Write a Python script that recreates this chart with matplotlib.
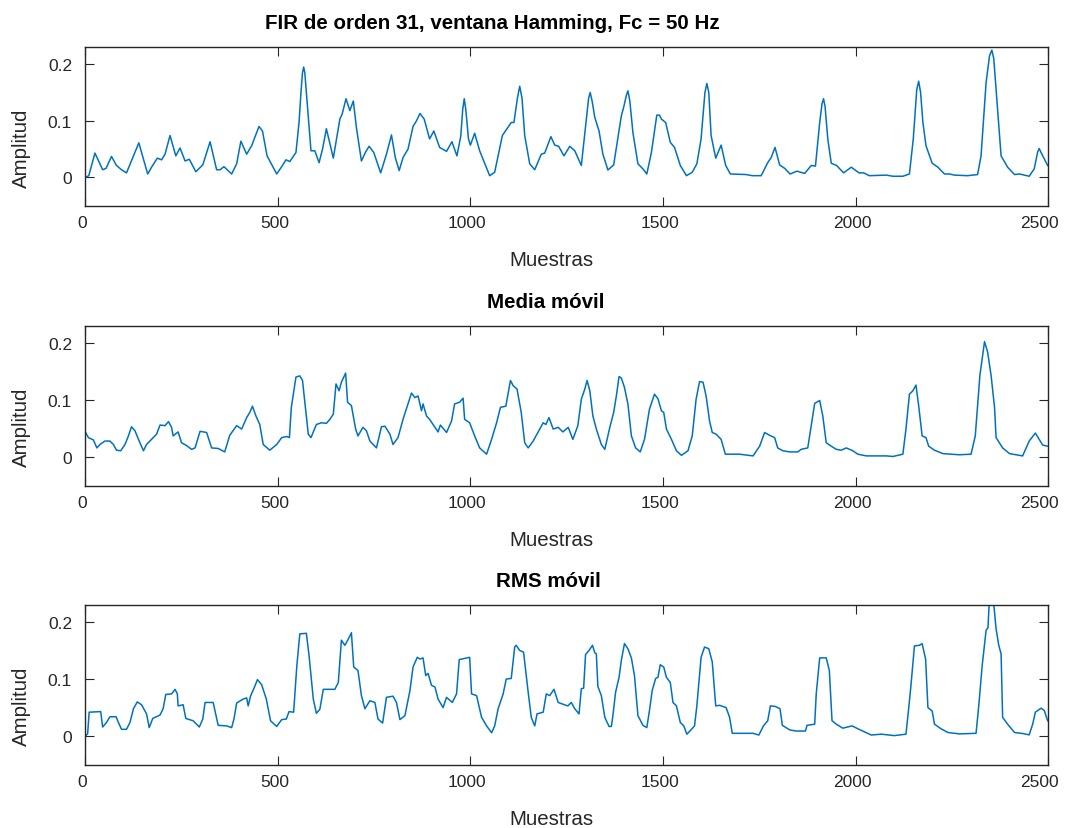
import numpy as np
import matplotlib
matplotlib.use("Agg")
import matplotlib.pyplot as plt
import matplotlib.transforms as mtransforms

plt.rcParams['font.family'] = ['Liberation Sans', 'DejaVu Sans']

# FIR de orden 31 (muestra, amplitud)
fir_x = [0, 9, 25, 45, 54, 68, 81, 94, 107, 139, 162, 172, 187, 198, 207, 220, 235, 246, 259, 270,
         287, 305, 324, 341, 350, 360, 380, 393, 404, 419, 432, 451, 460, 472, 497, 510, 521, 531, 547, 555,
         560, 564, 567, 570, 574, 580, 586, 596, 607, 616, 626, 644, 654, 661, 667, 677, 687, 696, 704, 717,
         728, 737, 749, 767, 782, 795, 805, 815, 825, 838, 851, 860, 869, 880, 894, 905, 920, 938, 952, 965,
         975, 980, 984, 988, 995, 1000, 1011, 1024, 1050, 1063, 1083, 1097, 1106, 1113, 1122, 1128, 1134, 1141, 1154, 1167,
         1184, 1193, 1209, 1219, 1229, 1243, 1258, 1271, 1288, 1301, 1307, 1311, 1316, 1323, 1334, 1344, 1357, 1372, 1392, 1398,
         1405, 1409, 1414, 1422, 1435, 1448, 1458, 1470, 1484, 1491, 1496, 1507, 1519, 1530, 1545, 1561, 1576, 1588, 1599, 1609,
         1614, 1619, 1625, 1637, 1651, 1663, 1675, 1716, 1732, 1755, 1772, 1781, 1791, 1803, 1816, 1830, 1848, 1868, 1885, 1896,
         1907, 1913, 1917, 1921, 1928, 1937, 1951, 1969, 1989, 2009, 2021, 2036, 2080, 2097, 2123, 2140, 2150, 2159, 2164, 2169,
         2175, 2183, 2199, 2214, 2231, 2244, 2257, 2291, 2317, 2326, 2339, 2348, 2354, 2359, 2365, 2378, 2395, 2413, 2426, 2451,
         2464, 2473, 2477, 2481, 2499]
fir_y = [0.0, 0.003, 0.043, 0.0135, 0.016, 0.037, 0.021, 0.0135, 0.008, 0.061, 0.006, 0.018, 0.034, 0.031, 0.041, 0.074, 0.038, 0.052, 0.029, 0.032,
         0.010, 0.022, 0.063, 0.0135, 0.0135, 0.019, 0.006, 0.024, 0.064, 0.041, 0.056, 0.090, 0.082, 0.038, 0.006, 0.019, 0.031, 0.028, 0.044, 0.097,
         0.150, 0.185, 0.195, 0.185, 0.150, 0.097, 0.047, 0.047, 0.026, 0.050, 0.086, 0.034, 0.074, 0.103, 0.112, 0.139, 0.118, 0.135, 0.088, 0.029,
         0.045, 0.055, 0.044, 0.008, 0.041, 0.075, 0.035, 0.012, 0.035, 0.050, 0.090, 0.100, 0.113, 0.103, 0.068, 0.082, 0.053, 0.046, 0.063, 0.038,
         0.073, 0.120, 0.139, 0.120, 0.068, 0.057, 0.078, 0.047, 0.003, 0.009, 0.074, 0.088, 0.097, 0.097, 0.140, 0.161, 0.140, 0.074, 0.024, 0.0135,
         0.041, 0.043, 0.072, 0.057, 0.055, 0.038, 0.055, 0.047, 0.021, 0.103, 0.140, 0.150, 0.135, 0.106, 0.082, 0.041, 0.013, 0.022, 0.109, 0.124,
         0.145, 0.153, 0.135, 0.079, 0.024, 0.015, 0.006, 0.044, 0.110, 0.110, 0.103, 0.097, 0.062, 0.053, 0.021, 0.003, 0.009, 0.024, 0.068, 0.150,
         0.166, 0.150, 0.074, 0.034, 0.057, 0.021, 0.006, 0.005, 0.003, 0.003, 0.026, 0.035, 0.053, 0.022, 0.016, 0.006, 0.011, 0.007, 0.021, 0.020,
         0.097, 0.130, 0.139, 0.125, 0.068, 0.025, 0.021, 0.008, 0.018, 0.008, 0.008, 0.003, 0.004, 0.002, 0.002, 0.006, 0.068, 0.155, 0.170, 0.150,
         0.097, 0.056, 0.025, 0.018, 0.006, 0.006, 0.004, 0.003, 0.005, 0.038, 0.167, 0.215, 0.225, 0.210, 0.156, 0.038, 0.018, 0.005, 0.006, 0.002,
         0.015, 0.045, 0.051, 0.045, 0.021]

# Media movil
mm_x = [0, 8, 21, 30, 38, 51, 64, 73, 81, 92, 103, 112, 120, 129, 138, 151, 159, 172, 185, 194,
        207, 216, 224, 228, 241, 250, 263, 276, 285, 298, 315, 328, 345, 362, 375, 393, 406, 419, 427, 434,
        443, 453, 462, 479, 497, 510, 523, 530, 535, 547, 557, 564, 570, 579, 586, 600, 613, 626, 635, 644,
        651, 659, 665, 676, 681, 691, 702, 708, 721, 730, 739, 756, 769, 778, 791, 799, 812, 825, 838, 847,
        856, 864, 873, 877, 886, 894, 903, 916, 922, 938, 951, 959, 972, 981, 985, 998, 1011, 1024, 1042, 1055,
        1068, 1078, 1092, 1104, 1111, 1121, 1132, 1141, 1150, 1163, 1180, 1189, 1196, 1204, 1215, 1228, 1240, 1254, 1266, 1279,
        1288, 1297, 1303, 1310, 1318, 1327, 1340, 1349, 1362, 1372, 1379, 1386, 1392, 1400, 1409, 1418, 1429, 1441, 1452, 1465,
        1478, 1487, 1496, 1502, 1509, 1522, 1535, 1548, 1565, 1576, 1586, 1595, 1604, 1612, 1621, 1628, 1638, 1651, 1662, 1699,
        1734, 1751, 1764, 1777, 1790, 1798, 1811, 1829, 1850, 1859, 1876, 1885, 1894, 1907, 1915, 1924, 1937, 1950, 1963, 1976,
        1993, 2006, 2028, 2080, 2097, 2123, 2131, 2140, 2149, 2157, 2164, 2173, 2183, 2190, 2205, 2227, 2270, 2300, 2311, 2323,
        2335, 2343, 2352, 2361, 2365, 2382, 2400, 2434, 2451, 2467, 2486, 2499]
mm_y = [0.044, 0.034, 0.030, 0.016, 0.022, 0.028, 0.028, 0.022, 0.012, 0.011, 0.022, 0.037, 0.053, 0.046, 0.031, 0.011, 0.022, 0.031, 0.040, 0.056,
        0.055, 0.062, 0.052, 0.037, 0.044, 0.025, 0.020, 0.0135, 0.016, 0.045, 0.043, 0.016, 0.015, 0.009, 0.038, 0.055, 0.049, 0.069, 0.078, 0.089,
        0.072, 0.057, 0.022, 0.012, 0.022, 0.034, 0.036, 0.034, 0.087, 0.140, 0.142, 0.134, 0.096, 0.040, 0.034, 0.057, 0.060, 0.059, 0.066, 0.075,
        0.128, 0.116, 0.131, 0.147, 0.096, 0.090, 0.049, 0.037, 0.052, 0.046, 0.028, 0.016, 0.053, 0.054, 0.040, 0.022, 0.034, 0.066, 0.093, 0.112,
        0.104, 0.107, 0.081, 0.093, 0.072, 0.066, 0.057, 0.044, 0.056, 0.043, 0.063, 0.093, 0.096, 0.103, 0.066, 0.060, 0.037, 0.016, 0.005, 0.031,
        0.060, 0.087, 0.089, 0.134, 0.125, 0.119, 0.078, 0.025, 0.016, 0.028, 0.049, 0.060, 0.057, 0.069, 0.049, 0.052, 0.044, 0.052, 0.031, 0.055,
        0.101, 0.119, 0.134, 0.116, 0.072, 0.049, 0.022, 0.0135, 0.052, 0.078, 0.107, 0.141, 0.138, 0.122, 0.093, 0.037, 0.016, 0.009, 0.031, 0.084,
        0.110, 0.102, 0.081, 0.078, 0.049, 0.031, 0.011, 0.003, 0.011, 0.037, 0.101, 0.132, 0.131, 0.107, 0.063, 0.043, 0.040, 0.031, 0.005, 0.005,
        0.002, 0.019, 0.043, 0.038, 0.034, 0.016, 0.011, 0.009, 0.009, 0.0135, 0.016, 0.055, 0.094, 0.099, 0.072, 0.025, 0.019, 0.0135, 0.012, 0.016,
        0.011, 0.005, 0.002, 0.002, 0.001, 0.005, 0.049, 0.110, 0.116, 0.126, 0.090, 0.037, 0.034, 0.019, 0.012, 0.006, 0.004, 0.005, 0.037, 0.143,
        0.202, 0.184, 0.143, 0.087, 0.034, 0.016, 0.006, 0.002, 0.028, 0.042, 0.021, 0.019]

# RMS movil
rms_x = [0, 6, 10, 40, 45, 55, 64, 80, 86, 94, 107, 116, 125, 135, 146, 159, 166, 175, 194, 202,
         209, 224, 233, 239, 241, 254, 261, 280, 296, 305, 311, 332, 339, 345, 367, 380, 386, 393, 410, 419,
         423, 429, 440, 447, 458, 470, 481, 497, 510, 522, 529, 541, 549, 557, 574, 581, 592, 600, 609, 618,
         648, 657, 665, 674, 683, 691, 697, 708, 717, 726, 739, 752, 760, 772, 782, 799, 808, 817, 830, 843,
         851, 862, 869, 877, 884, 890, 899, 908, 916, 929, 938, 953, 964, 971, 998, 1003, 1016, 1029, 1042, 1055,
         1063, 1072, 1085, 1093, 1106, 1115, 1119, 1128, 1138, 1150, 1158, 1167, 1173, 1189, 1197, 1206, 1217, 1228, 1240, 1253,
         1262, 1271, 1282, 1288, 1294, 1299, 1308, 1317, 1323, 1327, 1331, 1340, 1349, 1360, 1366, 1370, 1377, 1386, 1392, 1400,
         1409, 1418, 1426, 1435, 1448, 1458, 1465, 1472, 1481, 1487, 1493, 1502, 1509, 1519, 1526, 1535, 1545, 1554, 1562, 1574,
         1582, 1588, 1599, 1608, 1619, 1628, 1637, 1647, 1664, 1673, 1680, 1734, 1749, 1761, 1772, 1779, 1792, 1804, 1810, 1829,
         1846, 1870, 1874, 1894, 1898, 1907, 1924, 1932, 1939, 1950, 1967, 1991, 2006, 2023, 2041, 2067, 2101, 2131, 2138, 2144,
         2153, 2166, 2173, 2182, 2188, 2199, 2205, 2222, 2240, 2270, 2313, 2320, 2329, 2339, 2344, 2348, 2357, 2365, 2372, 2378,
         2382, 2395, 2413, 2434, 2451, 2460, 2467, 2482, 2490, 2499]
rms_y = [0.0, 0.004, 0.042, 0.043, 0.016, 0.024, 0.034, 0.034, 0.024, 0.012, 0.012, 0.024, 0.048, 0.060, 0.055, 0.039, 0.015, 0.031, 0.037, 0.048,
         0.073, 0.074, 0.082, 0.074, 0.053, 0.055, 0.031, 0.027, 0.016, 0.030, 0.059, 0.059, 0.037, 0.019, 0.018, 0.015, 0.030, 0.058, 0.065, 0.067,
         0.053, 0.070, 0.087, 0.099, 0.090, 0.065, 0.027, 0.017, 0.029, 0.030, 0.043, 0.042, 0.121, 0.179, 0.180, 0.141, 0.065, 0.040, 0.047, 0.082,
         0.082, 0.094, 0.168, 0.159, 0.170, 0.181, 0.121, 0.115, 0.071, 0.048, 0.062, 0.059, 0.030, 0.023, 0.068, 0.070, 0.059, 0.029, 0.036, 0.080,
         0.121, 0.138, 0.135, 0.137, 0.106, 0.110, 0.089, 0.086, 0.065, 0.050, 0.068, 0.059, 0.074, 0.134, 0.138, 0.074, 0.071, 0.033, 0.018, 0.006,
         0.018, 0.048, 0.074, 0.100, 0.101, 0.156, 0.159, 0.150, 0.147, 0.077, 0.033, 0.018, 0.039, 0.042, 0.074, 0.071, 0.082, 0.059, 0.056, 0.053,
         0.059, 0.048, 0.039, 0.083, 0.084, 0.143, 0.150, 0.159, 0.146, 0.144, 0.087, 0.071, 0.033, 0.017, 0.017, 0.036, 0.077, 0.103, 0.133, 0.162,
         0.153, 0.137, 0.106, 0.036, 0.019, 0.015, 0.045, 0.080, 0.101, 0.103, 0.125, 0.121, 0.103, 0.094, 0.059, 0.053, 0.024, 0.018, 0.0035, 0.012,
         0.018, 0.053, 0.138, 0.156, 0.153, 0.130, 0.053, 0.054, 0.050, 0.033, 0.005, 0.005, 0.002, 0.018, 0.027, 0.053, 0.052, 0.048, 0.019, 0.011,
         0.009, 0.009, 0.019, 0.021, 0.074, 0.137, 0.137, 0.115, 0.027, 0.021, 0.014, 0.018, 0.013, 0.0076, 0.002, 0.0035, 0.001, 0.0035, 0.048, 0.089,
         0.158, 0.159, 0.162, 0.135, 0.050, 0.044, 0.021, 0.013, 0.0064, 0.004, 0.005, 0.053, 0.124, 0.185, 0.190, 0.245, 0.245, 0.188, 0.159, 0.144,
         0.033, 0.021, 0.0064, 0.0047, 0.0023, 0.021, 0.042, 0.049, 0.045, 0.027]

titulos = ['FIR de orden 31, ventana Hamming, Fc = 50 Hz', 'Media móvil', 'RMS móvil']
titulo_x = [0.4225, 0.478, 0.4806]
series = [(fir_x, fir_y), (mm_x, mm_y), (rms_x, rms_y)]

azul = '#0072BD'
gris = '#262626'

fig = plt.figure(figsize=(10.65, 8.29), dpi=100)
posiciones = [[0.0801, 0.7507, 0.904, 0.1911],
              [0.0801, 0.4130, 0.904, 0.1930],
              [0.0801, 0.0763, 0.904, 0.1930]]

for i in range(3):
    ax = fig.add_axes(posiciones[i])
    x, y = series[i]
    ax.plot(x, y, color=azul, lw=1.1)
    ax.set_xlim(0, 2500)
    ax.set_ylim(-0.05, 0.23)
    ax.set_xticks([0, 500, 1000, 1500, 2000, 2500])
    ax.set_yticks([0, 0.1, 0.2])
    ax.set_yticklabels(['0', '0.1', '0.2'])
    ax.tick_params(direction='in', top=True, right=True, length=6.5, width=0.8,
                   color=gris, labelcolor=gris, labelsize=12.5)
    ax.tick_params(axis='x', pad=7)
    ax.tick_params(axis='y', pad=9.5)
    for s in ax.spines.values():
        s.set_color(gris)
        s.set_linewidth(1.0)
    # etiquetas del eje x un poco a la izquierda, como en la figura original
    etiquetas = ax.get_xticklabels()
    for k, lab in enumerate(etiquetas):
        dx = -0.09 if k == len(etiquetas) - 1 else -0.03
        lab.set_transform(lab.get_transform() +
                          mtransforms.ScaledTranslation(dx, 0, fig.dpi_scale_trans))
    ax.annotate(titulos[i], xy=(titulo_x[i], 1), xycoords='axes fraction',
                xytext=(0, 13.5), textcoords='offset points',
                ha='center', va='baseline', fontsize=14.8, fontweight='bold', color='black')
    ax.annotate('Muestras', xy=(0.4845, 0), xycoords='axes fraction',
                xytext=(0, -43), textcoords='offset points',
                ha='center', va='baseline', fontsize=14.8, color=gris)
    ax.annotate('Amplitud', xy=(0, 0.37), xycoords='axes fraction',
                xytext=(-46, 0), textcoords='offset points',
                ha='center', va='center', rotation=90, fontsize=14.8, color=gris)

fig.savefig('out.png', dpi=100)
